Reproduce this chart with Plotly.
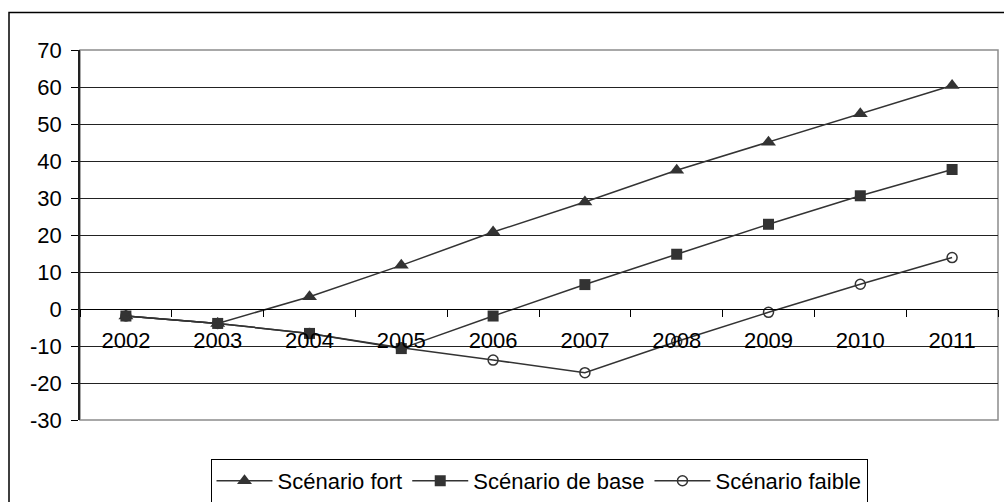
import plotly.graph_objects as go

years = ["2002", "2003", "2004", "2005", "2006", "2007", "2008", "2009", "2010", "2011"]
fort = [-1.9, -3.9, 3.3, 11.8, 20.8, 28.9, 37.5, 45.1, 52.8, 60.4]
base = [-1.9, -3.9, -6.6, -10.7, -1.9, 6.6, 14.8, 22.9, 30.6, 37.7]
faible = [-1.9, -3.9, -6.6, -10.5, -13.8, -17.2, -8.8, -0.9, 6.7, 13.9]

y_ticks = [70, 60, 50, 40, 30, 20, 10, 0, -10, -20, -30]

FONT = "Arial, 'Liberation Sans', sans-serif"
LINE = "#333333"

fig = go.Figure()
fig.add_trace(go.Scatter(
    x=years, y=fort, name="Scénario fort", mode="lines+markers",
    line=dict(color=LINE, width=1.5),
    marker=dict(symbol="triangle-up", size=13, color=LINE, line=dict(width=0)),
))
fig.add_trace(go.Scatter(
    x=years, y=base, name="Scénario de base", mode="lines+markers",
    line=dict(color=LINE, width=1.5),
    marker=dict(symbol="square", size=11, color=LINE, line=dict(width=0)),
))
fig.add_trace(go.Scatter(
    x=years, y=faible, name="Scénario faible", mode="lines+markers",
    line=dict(color=LINE, width=1.5),
    marker=dict(symbol="circle-open", size=10, color=LINE, line=dict(width=1.5, color=LINE)),
))

fig.update_layout(
    width=1004, height=502,
    margin=dict(l=80, r=6, t=49.5, b=81.5, autoexpand=False),
    paper_bgcolor="white", plot_bgcolor="white",
    font=dict(family=FONT, size=22, color="black"),
    showlegend=True,
    legend=dict(
        orientation="h", x=0.5, xanchor="center",
        yref="container", y=1 - 459 / 502, yanchor="top",
        bordercolor="black", borderwidth=1, bgcolor="white",
        font=dict(family=FONT, size=22, color="black"),
        itemwidth=56,
        itemclick=False,
    ),
    xaxis=dict(
        type="category", anchor="free", position=0.3,
        showline=True, linecolor="black", linewidth=1,
        ticks="outside", ticklen=7, tickcolor="black", tickson="boundaries",
        showgrid=False, zeroline=False,
        ticklabelstandoff=12,
        tickfont=dict(family=FONT, size=22, color="black"),
        range=[-0.5, 9.5],
    ),
    yaxis=dict(
        range=[-30, 70], tickvals=y_ticks, ticktext=[str(v) for v in y_ticks],
        showgrid=True, gridcolor="#222222", gridwidth=1,
        zeroline=False,
        showline=True, linecolor="#222222", linewidth=1.5,
        ticks="outside", ticklen=7, tickcolor="black",
        ticklabelstandoff=5,
        tickfont=dict(family=FONT, size=22, color="black"),
    ),
)

# plot area border (grey) and outer chart border (black)
fig.add_shape(type="rect", xref="paper", yref="paper", x0=0, x1=1, y0=0, y1=1,
              line=dict(color="#8c8c8c", width=1.5), layer="below")
fig.add_shape(type="rect", xref="paper", yref="paper",
              x0=-71 / 918, x1=1.05, y0=-0.3, y1=1 + 37.5 / 371,
              line=dict(color="black", width=1.5), layer="below")

fig.write_html("out.html", config={"displayModeBar": False},
               post_script="document.body.style.margin='0';")
